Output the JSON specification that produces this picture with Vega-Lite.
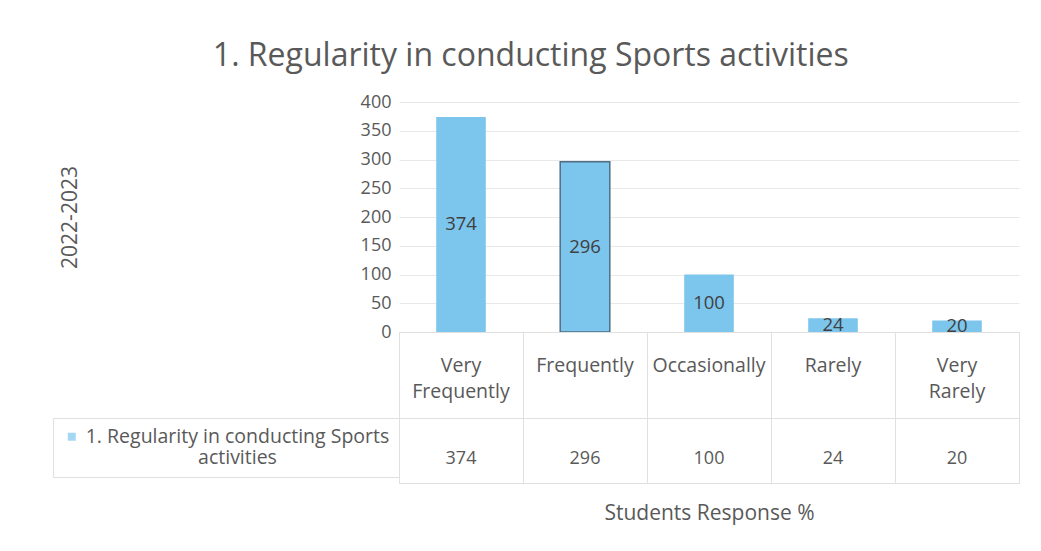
{
  "$schema": "https://vega.github.io/schema/vega-lite/v6.json",
  "background": "white",
  "padding": {"left": 52, "top": 40, "right": 17, "bottom": 5},
  "title": {"text": "1. Regularity in conducting Sports activities", "fontSize": 32, "font": "Open Sans", "fontWeight": "normal", "color": "#595959", "anchor": "middle", "offset": 20, "dx": -5},
  "config": {"font": "Open Sans", "view": {"stroke": null}},
  "datasets": {
    "responses": [
      {"response": "Very Frequently", "value": 374, "series": "1. Regularity in conducting Sports activities"},
      {"response": "Frequently", "value": 296, "series": "1. Regularity in conducting Sports activities"},
      {"response": "Occasionally", "value": 100, "series": "1. Regularity in conducting Sports activities"},
      {"response": "Rarely", "value": 24, "series": "1. Regularity in conducting Sports activities"},
      {"response": "Very Rarely", "value": 20, "series": "1. Regularity in conducting Sports activities"}
    ]
  },
  "spacing": 0,
  "bounds": "flush",
  "resolve": {"scale": {"color": "independent"}, "legend": {"color": "independent"}},
  "vconcat": [
    {
      "width": 620,
      "height": 230,
      "data": {"name": "responses"},
      "transform": [{"calculate": "datum.value / 2", "as": "labelAt"}],
      "encoding": {
        "x": {"field": "response", "type": "nominal", "sort": null, "scale": {"type": "band", "paddingInner": 0.6, "paddingOuter": 0.3}, "axis": null}
      },
      "resolve": {"scale": {"y": "independent"}, "axis": {"y": "independent"}},
      "layer": [
        {
          "mark": {"type": "bar", "color": "#7cc6ee", "strokeWidth": 1.5},
          "encoding": {
            "y": {"field": "value", "type": "quantitative", "scale": {"domain": [0, 400], "nice": false},
              "axis": {"values": [0, 50, 100, 150, 200, 250, 300, 350, 400], "labelOverlap": false, "title": "2022-2023", "titlePadding": 280, "titleFontSize": 21, "titleFontWeight": "normal", "titleColor": "#595959", "labelColor": "#595959", "labelFontSize": 18, "labelPadding": 8, "ticks": false, "domain": false, "gridColor": "#e8e8e8", "gridWidth": 1}},
            "stroke": {"condition": {"test": "datum.response === 'Frequently'", "value": "#4f6d86"}, "value": null}
          }
        },
        {
          "mark": {"type": "text", "fontSize": 18.5, "color": "#404040", "baseline": "middle"},
          "encoding": {
            "y": {"field": "labelAt", "type": "quantitative", "scale": {"domain": [0, 400], "nice": false}, "axis": null},
            "text": {"field": "value", "type": "quantitative"}
          }
        }
      ]
    },
    {
      "width": 620,
      "height": 86,
      "data": {"name": "responses"},
      "view": {"stroke": "#e0e0e0"},
      "mark": {"type": "text", "lineBreak": " ", "lineHeight": 26, "fontSize": 19.5, "color": "#595959", "baseline": "middle", "dy": -9},
      "encoding": {
        "x": {"field": "response", "type": "nominal", "sort": null, "scale": {"type": "band", "paddingInner": 0, "paddingOuter": 0},
          "axis": {"title": null, "labels": false, "ticks": false, "domain": false, "grid": true, "tickBand": "extent", "gridColor": "#e0e0e0"}},
        "text": {"field": "response"}
      }
    },
    {
      "width": 620,
      "height": 65,
      "data": {"name": "responses"},
      "view": {"stroke": "#e0e0e0"},
      "encoding": {
        "x": {"field": "response", "type": "nominal", "sort": null, "scale": {"type": "band", "paddingInner": 0, "paddingOuter": 0},
          "axis": {"title": "Students Response %", "titleFontSize": 21, "titleFontWeight": "normal", "titleColor": "#595959", "titlePadding": 19, "labels": false, "ticks": false, "domain": false, "grid": true, "tickBand": "extent", "gridColor": "#e0e0e0"}}
      },
      "layer": [
        {
          "mark": {"type": "text", "fontSize": 18, "color": "#595959", "baseline": "middle", "dy": 8},
          "encoding": {"text": {"field": "value", "type": "quantitative"}}
        },
        {
          "mark": {"type": "square", "size": 0, "filled": true},
          "encoding": {
            "color": {"field": "series", "type": "nominal", "scale": {"range": ["#7cc6ee"]},
              "legend": {"orient": "left", "title": null, "offset": 0, "symbolType": "square", "symbolSize": 64, "symbolStrokeWidth": 0, "labelFontSize": 19.5, "labelColor": "#595959", "labelExpr": "[slice(datum.label, 0, 34), slice(datum.label, 35)]", "labelAlign": "center", "labelOffset": 156, "labelLimit": 500, "padding": 9, "strokeColor": "#e0e0e0"}}
          }
        }
      ]
    }
  ]
}
